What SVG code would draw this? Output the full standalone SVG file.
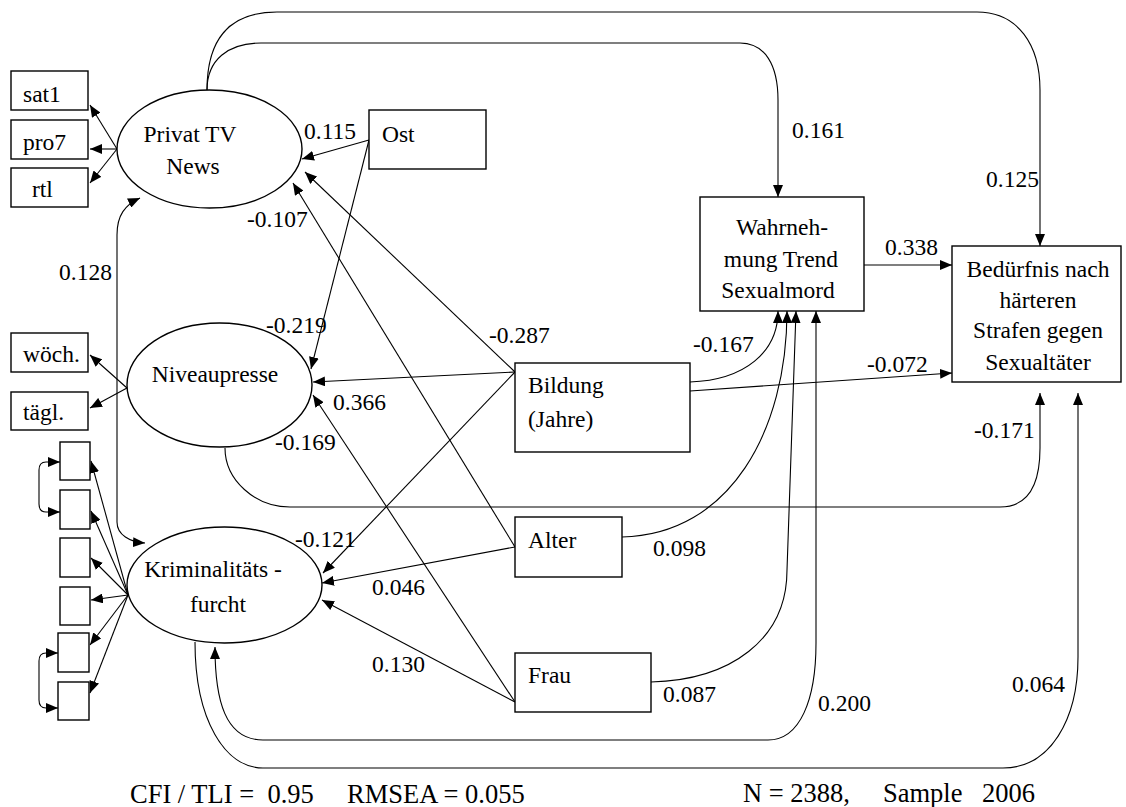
<svg xmlns="http://www.w3.org/2000/svg" width="1126" height="807" viewBox="0 0 1126 807">
<defs>
<marker id="ah" viewBox="0 0 12 10" refX="12" refY="5" markerWidth="12" markerHeight="10" markerUnits="userSpaceOnUse" orient="auto-start-reverse"><path d="M0,0 L12,5 L0,10 z" fill="#000"/></marker>
</defs>
<style>
.n{fill:#fff;stroke:#000;stroke-width:1.4}
.t{font-family:"Liberation Serif","Times New Roman",serif;font-size:23.5px;fill:#000}
.f{font-family:"Liberation Serif","Times New Roman",serif;font-size:26.5px;fill:#000}
.c path{fill:none;stroke:#000;stroke-width:1.1;marker-end:url(#ah)}
.c path.d{marker-start:url(#ah)}
.c path.p{marker-end:none}
.m{text-anchor:middle}
</style>
<rect width="1126" height="807" fill="#fff"/>
<g class="c" id="connectors">
<path d="M117,149 L90,105"/>
<path d="M117,149 L90,149"/>
<path d="M117,149 L90,183"/>
<path d="M127,388 L90,355"/>
<path d="M127,388 L90,408"/>
<path d="M128,595 L91,461"/>
<path d="M128,595 L91,511"/>
<path d="M128,595 L91,558"/>
<path d="M128,595 L91,600"/>
<path d="M128,595 L90,645"/>
<path d="M128,595 L90,693"/>
<path class="d" d="M60,462 L46,462 Q39,462 39,470 L39,504 Q39,512 46,512 L60,512"/>
<path class="d" d="M58,653 L46,653 Q39,653 39,661 L39,700 Q39,708 46,708 L58,708"/>
<path d="M369,140 L302,159"/>
<path d="M369,140 L311,369"/>
<path d="M515,372 L305,172"/>
<path d="M515,547 L293,183"/>
<path d="M515,372 L313,382"/>
<path d="M515,702 L313,395"/>
<path d="M515,372 L323,573"/>
<path d="M515,547 L322,583"/>
<path d="M515,702 L322,600"/>
<path d="M864,265 L952,265"/>
<path d="M690,391 L952,373"/>
<path d="M690,382 C745,380 778,352 778,311"/>
<path d="M622,537 C730,535 787,430 787,311"/>
<path d="M651,682 C730,680 787,640 787,570 L796,311"/>
<path class="d" d="M816,311 L816,643 C816,700 800,740 768,740 L263,740 C225,740 215,700 215,647"/>
<path d="M195,642 C195,720 225,768 263,768 L1003,768 C1050,768 1078,720 1078,657 L1078,393"/>
<path d="M225,448 C225,480 255,507 290,507 L1000,507 C1025,507 1040,490 1040,448 L1040,393"/>
<path d="M207,90 C207,60 228,43 261,43 L740,43 C765,43 778,65 778,100 L778,197"/>
<path d="M207,90 C207,40 228,12 277,12 L977,12 C1018,12 1040,45 1040,90 L1040,246"/>
<path class="d" d="M140,198 C125,205 117,215 117,235 L117,522 C117,535 130,542 145,543"/>
</g>
<g id="sat1"><rect class="n" x="11" y="71" width="77" height="39"/><text class="t" x="23" y="102">sat1</text></g>
<g id="pro7"><rect class="n" x="11" y="120" width="77" height="39"/><text class="t" x="23" y="150">pro7</text></g>
<g id="rtl"><rect class="n" x="11" y="168" width="77" height="39"/><text class="t" x="32" y="197">rtl</text></g>
<g id="woech"><rect class="n" x="11" y="333" width="77" height="39"/><text class="t" x="23" y="362">wöch.</text></g>
<g id="taegl"><rect class="n" x="11" y="392" width="77" height="38"/><text class="t" x="23" y="420">tägl.</text></g>
<g id="k1"><rect class="n" x="60" y="442" width="30" height="38"/></g>
<g id="k2"><rect class="n" x="60" y="490" width="30" height="39"/></g>
<g id="k3"><rect class="n" x="60" y="538" width="30" height="39"/></g>
<g id="k4"><rect class="n" x="60" y="587" width="30" height="38"/></g>
<g id="k5"><rect class="n" x="58" y="633" width="31" height="39"/></g>
<g id="k6"><rect class="n" x="58" y="682" width="31" height="38"/></g>
<g id="privattv"><ellipse class="n" cx="209.5" cy="149" rx="92.5" ry="59"/><text class="t m" x="190" y="142">Privat TV</text><text class="t m" x="193" y="174">News</text></g>
<g id="niveaupresse"><ellipse class="n" cx="219.5" cy="385" rx="92.5" ry="62"/><text class="t m" x="215" y="382">Niveaupresse</text></g>
<g id="krim"><ellipse class="n" cx="224.5" cy="585" rx="97.5" ry="58"/><text class="t m" x="213" y="577">Kriminalitäts -</text><text class="t m" x="218" y="612">furcht</text></g>
<g id="ost"><rect class="n" x="369" y="110" width="117" height="59"/><text class="t" x="382" y="142">Ost</text></g>
<g id="bildung"><rect class="n" x="515" y="363" width="175" height="89"/><text class="t" x="528" y="393">Bildung</text><text class="t" x="528" y="427">(Jahre)</text></g>
<g id="alter"><rect class="n" x="515" y="517" width="107" height="60"/><text class="t" x="528" y="548">Alter</text></g>
<g id="frau"><rect class="n" x="515" y="653" width="136" height="59"/><text class="t" x="528" y="683">Frau</text></g>
<g id="wahrnehmung"><rect class="n" x="700" y="197" width="164" height="114"/><text class="t m" x="782" y="235">Wahrneh-</text><text class="t m" x="781" y="267">mung Trend</text><text class="t m" x="778" y="298">Sexualmord</text></g>
<g id="beduerfnis"><rect class="n" x="952" y="246" width="169" height="136"/><text class="t m" x="1038" y="277">Bedürfnis nach</text><text class="t m" x="1038" y="308">härteren</text><text class="t m" x="1038" y="338">Strafen gegen</text><text class="t m" x="1038" y="370">Sexualtäter</text></g>
<g id="labels">
<text class="t" x="304" y="139">0.115</text>
<text class="t" x="247" y="227">-0.107</text>
<text class="t" x="59" y="280">0.128</text>
<text class="t" x="266" y="333">-0.219</text>
<text class="t" x="489" y="343">-0.287</text>
<text class="t" x="333" y="410">0.366</text>
<text class="t" x="275" y="450">-0.169</text>
<text class="t" x="295" y="547">-0.121</text>
<text class="t" x="372" y="595">0.046</text>
<text class="t" x="372" y="672">0.130</text>
<text class="t" x="653" y="556">0.098</text>
<text class="t" x="663" y="702">0.087</text>
<text class="t" x="818" y="711">0.200</text>
<text class="t" x="1012" y="692">0.064</text>
<text class="t" x="974" y="438">-0.171</text>
<text class="t" x="867" y="372">-0.072</text>
<text class="t" x="693" y="352">-0.167</text>
<text class="t" x="885" y="255">0.338</text>
<text class="t" x="792" y="138">0.161</text>
<text class="t" x="986" y="187">0.125</text>
</g>
<g id="footer">
<text class="f" x="130" y="803" xml:space="preserve">CFI / TLI =  0.95</text>
<text class="f" x="347" y="803">RMSEA = 0.055</text>
<text class="f" x="743" y="802">N = 2388,</text>
<text class="f" x="883" y="802">Sample</text>
<text class="f" x="982" y="802">2006</text>
</g>
</svg>
